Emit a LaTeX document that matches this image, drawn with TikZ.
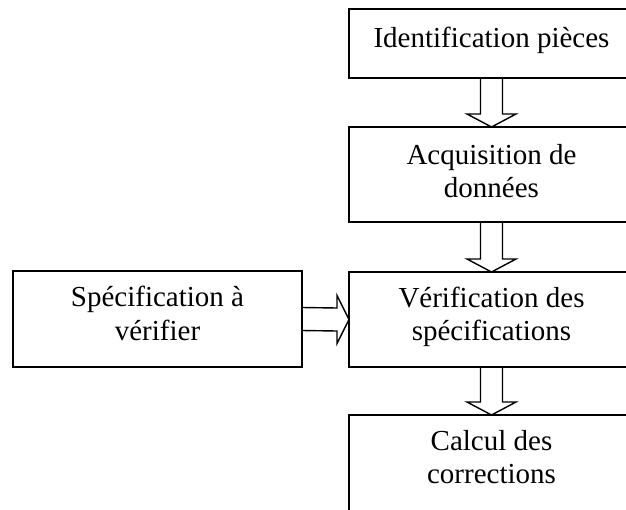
\documentclass[tikz,border=0pt]{standalone}
\usepackage{fontspec}
\setmainfont{Liberation Serif}
\usetikzlibrary{calc}
\begin{document}
\begin{tikzpicture}[x=1pt,y=1pt,
  box/.style={draw=black,line width=2.4pt,rectangle,inner sep=0pt,outer sep=0pt,
    align=center,font=\fontsize{29}{33.5}\selectfont,minimum width=285pt},
  blockarrow/.style={draw=black,line width=1.4pt,line join=miter},
]
\useasboundingbox (0,0) rectangle (626,-509);
\node[box,minimum height=69pt] (b1) at (491.5,-43.5) {\raisebox{3pt}[\height][\depth]{Identification pièces\strut}};
\node[box,minimum height=95pt] (b2) at (491.5,-174.5) {Acquisition de\strut\\données\strut};
\node[box,minimum height=95pt] (b3) at (491.5,-319.5) {\raisebox{2pt}[\height][\depth]{Vérification des\strut}\\\raisebox{2pt}[\height][\depth]{spécifications\strut}};
\node[box,minimum height=97pt] (b4) at (491.5,-463.5) {\raisebox{3pt}[\height][\depth]{Calcul des\strut}\\\raisebox{3pt}[\height][\depth]{corrections\strut}};
\node[box,minimum height=96pt,minimum width=289pt] (s) at (157.5,-319) {\raisebox{2pt}[\height][\depth]{Spécification à\strut}\\\raisebox{2pt}[\height][\depth]{vérifier\strut}};
% vertical block arrows
\foreach \a/\b in {b1/b2,b2/b3,b3/b4}{
  \draw[blockarrow] ($(\a.south)+(-11,0)$) -- ($(\b.north)+(-11,13)$) -- ($(\b.north)+(-24.5,13)$)
    -- (\b.north) -- ($(\b.north)+(24.5,13)$) -- ($(\b.north)+(11,13)$) -- ($(\a.south)+(11,0)$);
}
% horizontal block arrow
\draw[blockarrow] ($(s.east)+(0,11.5)$) -- ($(b3.west)+(-12,11.5)$) -- ($(b3.west)+(-12,24)$)
  -- (b3.west) -- ($(b3.west)+(-12,-24)$) -- ($(b3.west)+(-12,-11.5)$) -- ($(s.east)+(0,-11.5)$);
\end{tikzpicture}
\end{document}
